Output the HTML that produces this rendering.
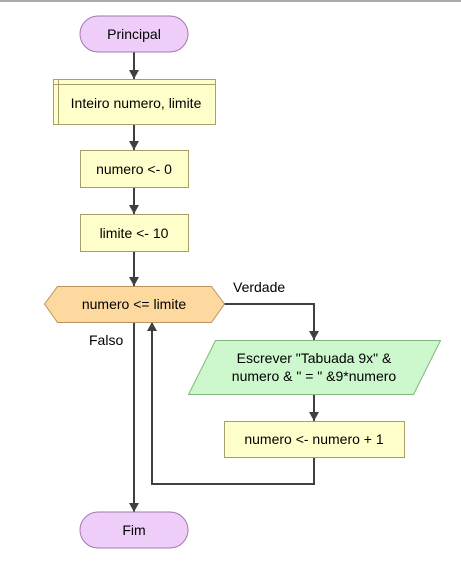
<!DOCTYPE html>
<html><head><style>body{margin:0;background:#fff}</style></head><body>
<svg width="461" height="577" xmlns="http://www.w3.org/2000/svg" font-family="Liberation Sans, Arial, sans-serif" font-size="14">
<defs><marker id="a" markerWidth="10" markerHeight="10" refX="9" refY="5" orient="auto" markerUnits="userSpaceOnUse"><path d="M0,0 L9,5 L0,10 z" fill="#404040"/></marker></defs>
<line x1="0" y1="1" x2="461" y2="1" stroke="#aaa" stroke-width="2"/>
<g stroke="#404040" stroke-width="2" fill="none">
<line x1="134" y1="52" x2="134" y2="79" marker-end="url(#a)"/>
<line x1="134" y1="124" x2="134" y2="150" marker-end="url(#a)"/>
<line x1="134" y1="187" x2="134" y2="214" marker-end="url(#a)"/>
<line x1="134" y1="251" x2="134" y2="286" marker-end="url(#a)"/>
<line x1="134" y1="322" x2="134" y2="512" marker-end="url(#a)"/>
<polyline points="224,304 314,304 314,340" marker-end="url(#a)"/>
<line x1="314" y1="394" x2="314" y2="421" marker-end="url(#a)"/>
<polyline points="314,457 314,484 152,484 152,322" marker-end="url(#a)"/>
</g>
<rect x="80" y="16" width="108" height="36" rx="18" fill="#eecdf9" stroke="#a27aac"/>
<text x="134" y="39" text-anchor="middle">Principal</text>
<rect x="53.5" y="79.5" width="162" height="45" fill="#ffffcc" stroke="#a89f6a"/>
<line x1="58.5" y1="79.5" x2="58.5" y2="124.5" stroke="#a89f6a"/>
<line x1="53.5" y1="84.5" x2="215.5" y2="84.5" stroke="#a89f6a"/>
<text x="136" y="108" text-anchor="middle">Inteiro numero, limite</text>
<rect x="80.5" y="150.5" width="108" height="37" fill="#ffffcc" stroke="#a89f6a"/>
<text x="134" y="174" text-anchor="middle">numero &lt;- 0</text>
<rect x="80.5" y="214.5" width="108" height="37" fill="#ffffcc" stroke="#a89f6a"/>
<text x="134" y="238" text-anchor="middle">limite &lt;- 10</text>
<polygon points="44.5,304 57.5,286.5 211.5,286.5 224.5,304 211.5,322.5 57.5,322.5" fill="#fdd99f" stroke="#b8955c"/>
<text x="134" y="309" text-anchor="middle">numero &lt;= limite</text>
<text x="233" y="292">Verdade</text>
<text x="89" y="345">Falso</text>
<polygon points="215.5,340.5 440.5,340.5 413.5,394.5 188.5,394.5" fill="#cdf8cd" stroke="#7fb57f"/>
<text x="314" y="363" text-anchor="middle">Escrever "Tabuada 9x" &amp;</text>
<text x="314" y="381" text-anchor="middle">numero &amp; " = " &amp;9*numero</text>
<rect x="224.5" y="421.5" width="180" height="36" fill="#ffffcc" stroke="#a89f6a"/>
<text x="314" y="444" text-anchor="middle">numero &lt;- numero + 1</text>
<rect x="80" y="512" width="108" height="36" rx="18" fill="#eecdf9" stroke="#a27aac"/>
<text x="134" y="535" text-anchor="middle">Fim</text>
</svg>
</body></html>
